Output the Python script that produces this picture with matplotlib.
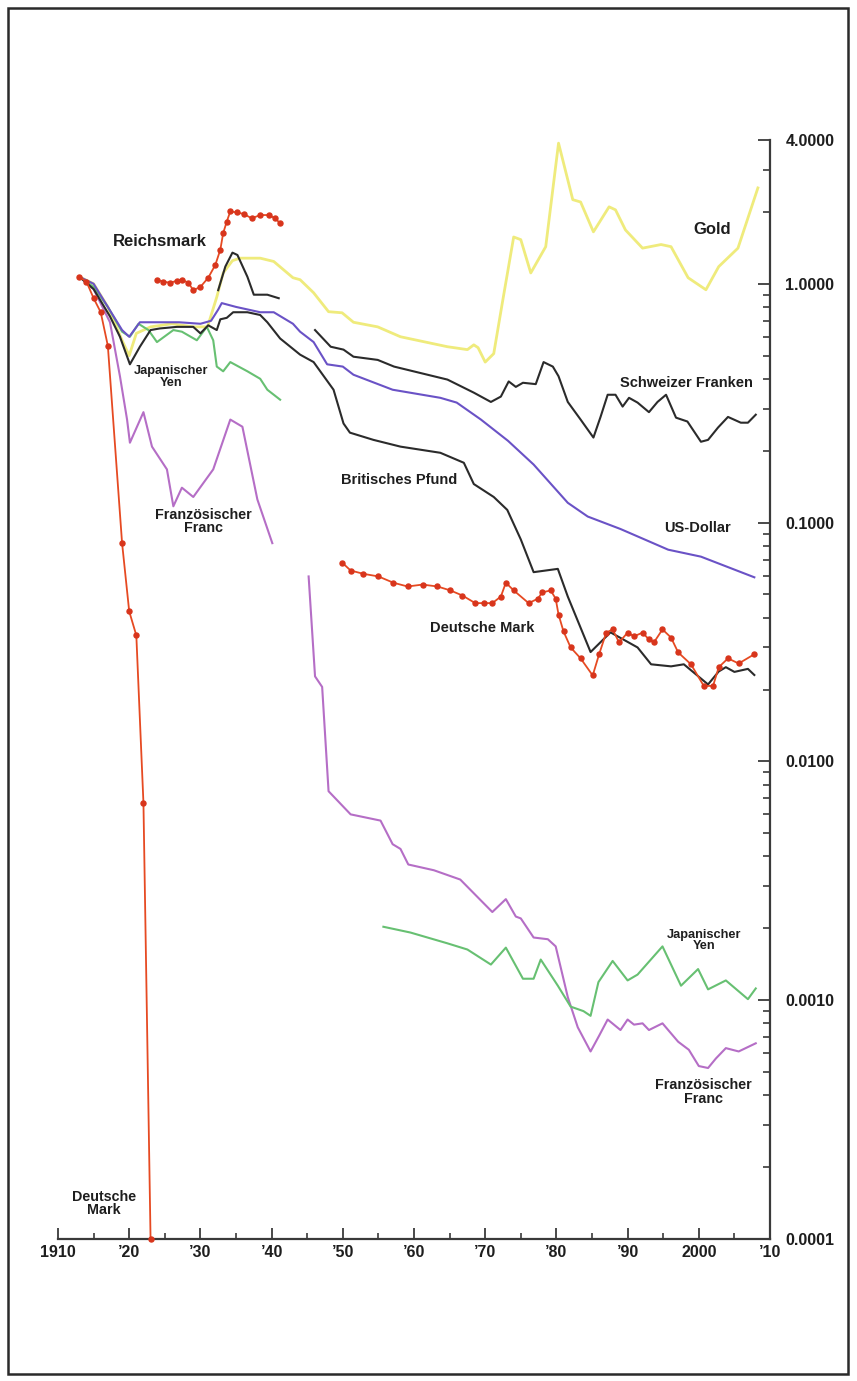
import matplotlib
matplotlib.use("Agg")
import matplotlib.pyplot as plt
from matplotlib.ticker import FixedLocator, LogLocator, NullFormatter
from matplotlib.patches import Rectangle

plt.rcParams['font.family'] = ['Liberation Sans', 'DejaVu Sans']

# ---- data: purchasing power relative to 1913 (log scale) ----
gold_years = [1913, 1915, 1917, 1919, 1920, 1921, 1923, 1926, 1929, 1931, 1932.3, 1933.2,
              1934.5, 1935.6, 1938.4, 1940.3, 1943, 1944, 1945.9, 1948, 1949.9, 1951.5,
              1954.9, 1958.1, 1964.7, 1967.5, 1968.4, 1969, 1970, 1971.2, 1972.4, 1974,
              1975, 1976.4, 1978.5, 1980.3, 1982.3, 1983.4, 1985.2, 1987.4, 1988.3, 1989.7,
              1992.1, 1994.7, 1996.1, 1998.5, 2001, 2002.8, 2005.5, 2008.3]
gold_vals = [1.07, 1.0, 0.80, 0.58, 0.50, 0.62, 0.66, 0.68, 0.66, 0.66, 0.88, 1.11,
             1.25, 1.28, 1.28, 1.24, 1.06, 1.04, 0.917, 0.764, 0.756, 0.69,
             0.66, 0.60, 0.545, 0.53, 0.555, 0.54, 0.47, 0.51, 0.83, 1.57,
             1.53, 1.11, 1.43, 3.88, 2.25, 2.2, 1.65, 2.1, 2.04, 1.68,
             1.41, 1.46, 1.43, 1.06, 0.944, 1.18, 1.41, 2.52]

dollar_years = [1913, 1915, 1917, 1919, 1920, 1921.5, 1924, 1927, 1930, 1931.5, 1932.5, 1933,
                1935, 1938.4, 1940.3, 1943, 1944, 1945.9, 1947.8, 1950, 1951.5, 1957, 1963.7,
                1966, 1969.4, 1973.2, 1976.8, 1981.6, 1984.4, 1989, 1995.7, 2000.3, 2007.8]
dollar_vals = [1.07, 1.0, 0.80, 0.64, 0.60, 0.69, 0.69, 0.69, 0.68, 0.70, 0.78, 0.83,
               0.80, 0.76, 0.76, 0.68, 0.63, 0.57, 0.46, 0.45, 0.416, 0.36, 0.333,
               0.318, 0.27, 0.22, 0.175, 0.121, 0.106, 0.094, 0.077, 0.072, 0.059]

pound_years = [1913, 1915, 1917.3, 1918.7, 1920.1, 1921.5, 1923, 1924.3, 1926.7, 1929, 1930,
               1931.1, 1932.3, 1932.8, 1933.7, 1934.6, 1936.6, 1938.4, 1939.4, 1941.2, 1944,
               1945.9, 1948.7, 1950.1, 1951, 1954.3, 1958.1, 1963.7, 1967, 1968.4, 1971.2,
               1973.1, 1975, 1976.8, 1980.2, 1981.6, 1984.8, 1987.6, 1991.4, 1993.3, 1996.1,
               1997.9, 2001.3, 2002.8, 2003.8, 2005, 2006.9, 2007.8]
pound_vals = [1.07, 0.95, 0.73, 0.60, 0.46, 0.545, 0.64, 0.65, 0.66, 0.66, 0.62,
              0.67, 0.64, 0.71, 0.72, 0.76, 0.76, 0.74, 0.69, 0.59, 0.505,
              0.47, 0.36, 0.26, 0.238, 0.222, 0.208, 0.196, 0.178, 0.145, 0.128,
              0.113, 0.085, 0.062, 0.064, 0.049, 0.0287, 0.0347, 0.030, 0.0255, 0.025,
              0.0255, 0.021, 0.0238, 0.0248, 0.0237, 0.0244, 0.023]

swiss1_years = [1932.5, 1933.5, 1934.5, 1935.2, 1936.6, 1937.5, 1939.4, 1941]
swiss1_vals = [0.94, 1.18, 1.35, 1.32, 1.07, 0.90, 0.90, 0.87]

swiss2_years = [1946.1, 1948.3, 1950.1, 1951.5, 1954.9, 1957.2, 1964.7, 1968.4, 1970.8,
                1972.2, 1973.3, 1974.3, 1975.3, 1977.1, 1978.2, 1979.5, 1980.3, 1981.6,
                1983.4, 1985.2, 1986.2, 1987.2, 1988.3, 1989.3, 1990.2, 1991.4, 1993,
                1994.2, 1995.4, 1996.8, 1998.4, 2000.3, 2001.3, 2002.7, 2004.1, 2005.9,
                2006.9, 2008]
swiss2_vals = [0.64, 0.545, 0.53, 0.495, 0.48, 0.45, 0.397, 0.35, 0.32,
               0.337, 0.39, 0.37, 0.385, 0.38, 0.47, 0.45, 0.41, 0.32,
               0.27, 0.227, 0.277, 0.343, 0.343, 0.306, 0.333, 0.318, 0.29,
               0.32, 0.343, 0.275, 0.265, 0.218, 0.222, 0.25, 0.277, 0.262,
               0.262, 0.283]

yen1_years = [1913, 1915, 1917, 1919, 1920.1, 1921.3, 1922.7, 1923.9, 1926.2, 1927.4, 1929.5,
              1930.9, 1931.8, 1932.3, 1933.2, 1934.2, 1936.6, 1938.4, 1939.4, 1941.2]
yen1_vals = [1.07, 0.97, 0.80, 0.63, 0.60, 0.68, 0.64, 0.57, 0.64, 0.63, 0.58,
             0.66, 0.58, 0.45, 0.43, 0.47, 0.43, 0.40, 0.36, 0.327]

yen2_years = [1955.7, 1959.5, 1964.7, 1967.5, 1970.8, 1972.9, 1975.3, 1976.8, 1977.8, 1980.2,
              1982, 1983.8, 1984.8, 1985.9, 1987.9, 1990, 1991.4, 1994.9, 1997.5, 1999.9,
              2001.3, 2003.8, 2006.9, 2008]
yen2_vals = [0.00203, 0.00192, 0.00173, 0.00163, 0.00141, 0.00166, 0.00123, 0.00123, 0.00148,
             0.00115, 0.00094, 0.00090, 0.00086, 0.00119, 0.00146, 0.00121, 0.00128, 0.00168,
             0.00115, 0.00135, 0.00111, 0.00121, 0.00101, 0.00112]

franc1_years = [1913, 1915, 1917.3, 1918.7, 1919.7, 1920.1, 1922, 1923.2, 1925.3, 1926.2,
                1927.4, 1929, 1931.8, 1934.2, 1935.9, 1938, 1940.1]
franc1_vals = [1.07, 0.95, 0.69, 0.41, 0.27, 0.216, 0.29, 0.208, 0.167, 0.117,
               0.14, 0.128, 0.167, 0.27, 0.252, 0.125, 0.082]

franc2_years = [1945.2, 1946.1, 1947.1, 1948, 1951.1, 1955.3, 1957, 1958.1, 1959.2, 1962.8,
                1966.5, 1971, 1972.9, 1974.3, 1975, 1976.8, 1978.8, 1979.9, 1981.6, 1983,
                1984.8, 1986, 1987.2, 1989, 1990, 1990.9, 1992.1, 1993, 1994.9, 1997.1,
                1998.6, 2000, 2001.3, 2002.4, 2003.8, 2005.6, 2008]
franc2_vals = [0.0595, 0.0227, 0.0205, 0.0075, 0.0060, 0.00565, 0.0045, 0.0043, 0.0037, 0.0035,
               0.0032, 0.00234, 0.00265, 0.00224, 0.0022, 0.00183, 0.0018, 0.00168, 0.00103,
               0.00077, 0.00061, 0.00071, 0.00083, 0.00075, 0.00083, 0.00079, 0.0008, 0.00075,
               0.0008, 0.00067, 0.00062, 0.00053, 0.00052, 0.00057, 0.00063, 0.00061, 0.00066]

dm1_years = [1913, 1914, 1915, 1916, 1917, 1919, 1920, 1921, 1922, 1923]
dm1_vals = [1.07, 1.02, 0.87, 0.76, 0.55, 0.082, 0.0425, 0.0337, 0.0067, 0.0001]

rm_years = [1923.9, 1924.8, 1925.8, 1926.7, 1927.4, 1928.3, 1929.0, 1930.0, 1931.1, 1932.1,
            1932.8, 1933.2, 1933.7, 1934.2, 1935.1, 1936.1, 1937.2, 1938.4, 1939.6, 1940.5,
            1941.2]
rm_vals = [1.04, 1.02, 1.01, 1.03, 1.04, 1.01, 0.94, 0.97, 1.06, 1.20,
           1.39, 1.63, 1.82, 2.01, 1.99, 1.96, 1.88, 1.94, 1.94, 1.88, 1.79]

dm2_years = [1949.9, 1951.1, 1952.9, 1955.0, 1957.1, 1959.1, 1961.2, 1963.3, 1965.1, 1966.8,
             1968.6, 1969.8, 1971.0, 1972.2, 1972.9, 1974.0, 1976.1, 1977.4, 1978.0, 1979.2,
             1979.9, 1980.3, 1981.0, 1982.0, 1983.4, 1985.1, 1986.0, 1987.0, 1987.9, 1988.8,
             1990.0, 1990.9, 1992.1, 1993.0, 1993.7, 1994.9, 1996.1, 1997.1, 1998.9, 2000.7,
             2002.0, 2002.8, 2004.1, 2005.6, 2007.8]
dm2_vals = [0.068, 0.063, 0.061, 0.0595, 0.056, 0.054, 0.055, 0.054, 0.052, 0.0495,
            0.046, 0.046, 0.046, 0.049, 0.056, 0.052, 0.046, 0.048, 0.051, 0.052,
            0.048, 0.0412, 0.035, 0.030, 0.027, 0.0229, 0.0281, 0.0346, 0.0357, 0.0315,
            0.0346, 0.0334, 0.0346, 0.0324, 0.0315, 0.0357, 0.033, 0.0286, 0.0255, 0.0207,
            0.0207, 0.0248, 0.027, 0.0257, 0.0281]

x_ticks = [1910, 1920, 1930, 1940, 1950, 1960, 1970, 1980, 1990, 2000, 2010]
x_labels = ['1910', '\u201920', '\u201930', '\u201940', '\u201950', '\u201960',
            '\u201970', '\u201980', '\u201990', '2000', '\u201910']
y_ticks = [0.0001, 0.001, 0.01, 0.1, 1.0, 4.0]
y_labels = ['0.0001', '0.0010', '0.0100', '0.1000', '1.0000', '4.0000']

# ---- colours ----
c_gold = '#efeb7c'
c_dollar = '#6a52c6'
c_black = '#2b2b2b'
c_red = '#e64a22'
c_dot = '#d8351c'
c_green = '#67c072'
c_franc = '#b56ec6'
c_text = '#1e1e1e'

W, H = 857, 1381
fig = plt.figure(figsize=(W / 100, H / 100), dpi=100)
fig.patch.set_facecolor('white')
ax = fig.add_axes([58 / W, 1 - 1239 / H, (770 - 58) / W, (1239 - 140) / H])

ax.set_yscale('log')
ax.set_xlim(1910, 2010)
ax.set_ylim(0.0001, 4.0)

lw = 1.5
ax.plot(gold_years, gold_vals, color=c_gold, lw=2.0, solid_joinstyle='round')
ax.plot(franc1_years, franc1_vals, color=c_franc, lw=lw)
ax.plot(franc2_years, franc2_vals, color=c_franc, lw=lw)
ax.plot(yen1_years, yen1_vals, color=c_green, lw=lw)
ax.plot(yen2_years, yen2_vals, color=c_green, lw=lw)
ax.plot(dollar_years, dollar_vals, color=c_dollar, lw=lw)
ax.plot(pound_years, pound_vals, color=c_black, lw=lw)
ax.plot(swiss1_years, swiss1_vals, color=c_black, lw=lw)
ax.plot(swiss2_years, swiss2_vals, color=c_black, lw=lw)
for yrs, vals in ((dm1_years, dm1_vals), (rm_years, rm_vals), (dm2_years, dm2_vals)):
    ax.plot(yrs, vals, color=c_red, lw=1.3, marker='o', ms=3.6,
            mfc=c_dot, mec=c_dot, clip_on=False, zorder=4)

# ---- axes styling ----
for side in ('left', 'top'):
    ax.spines[side].set_visible(False)
for side in ('right', 'bottom'):
    ax.spines[side].set_color('#3a3a3a')
    ax.spines[side].set_linewidth(1.6)

ax.xaxis.set_major_locator(FixedLocator(x_ticks))
ax.xaxis.set_minor_locator(FixedLocator([x + 5 for x in x_ticks[:-1]]))
ax.set_xticklabels(x_labels)
ax.tick_params(axis='x', which='major', direction='in', length=8, width=1.3,
               color='#3a3a3a', pad=4, labelsize=11.5, labelcolor=c_text)
ax.tick_params(axis='x', which='minor', direction='in', length=4, width=1.2,
               color='#3a3a3a')

ax.yaxis.tick_right()
ax.yaxis.set_label_position('right')
ax.yaxis.set_major_locator(FixedLocator(y_ticks))
ax.yaxis.set_minor_locator(LogLocator(base=10, subs=[2, 3, 4, 5, 6, 7, 8, 9]))
ax.yaxis.set_minor_formatter(NullFormatter())
ax.set_yticklabels(y_labels)
ax.tick_params(axis='y', which='major', direction='in', length=9, width=1.3,
               color='#3a3a3a', pad=11, labelsize=11.5, labelcolor=c_text)
ax.tick_params(axis='y', which='minor', direction='in', length=5, width=1.2,
               color='#3a3a3a')
for lab in ax.get_xticklabels() + ax.get_yticklabels():
    lab.set_fontweight('bold')

# ---- series labels ----
def label(x, y, s, size=10.5):
    ax.text(x, y, s, ha='center', va='center', fontsize=size, fontweight='bold',
            color=c_text, linespacing=0.95)

label(1924.3, 1.50, 'Reichsmark', 12)
label(2001.9, 1.68, 'Gold', 12)
label(1925.9, 0.408, 'Japanischer\nYen', 9.2)
label(1930.4, 0.101, 'Französischer\nFranc', 10.3)
label(1957.9, 0.151, 'Britisches Pfund')
label(1999.8, 0.095, 'US-Dollar')
label(1969.6, 0.0363, 'Deutsche Mark')
label(1998.3, 0.384, 'Schweizer Franken')
label(2000.8, 0.00178, 'Japanischer\nYen', 9.2)
label(2000.6, 0.000412, 'Französischer\nFranc', 10.3)
label(1916.4, 0.000141, 'Deutsche\nMark', 10.3)

# ---- outer frame ----
fig.patches.append(Rectangle((8 / W, 1 - 1374 / H), (848 - 8) / W, (1374 - 8) / H,
                             transform=fig.transFigure, fill=False,
                             edgecolor='#2a2a2a', linewidth=1.8))

fig.savefig('out.png', dpi=100, facecolor='white')
